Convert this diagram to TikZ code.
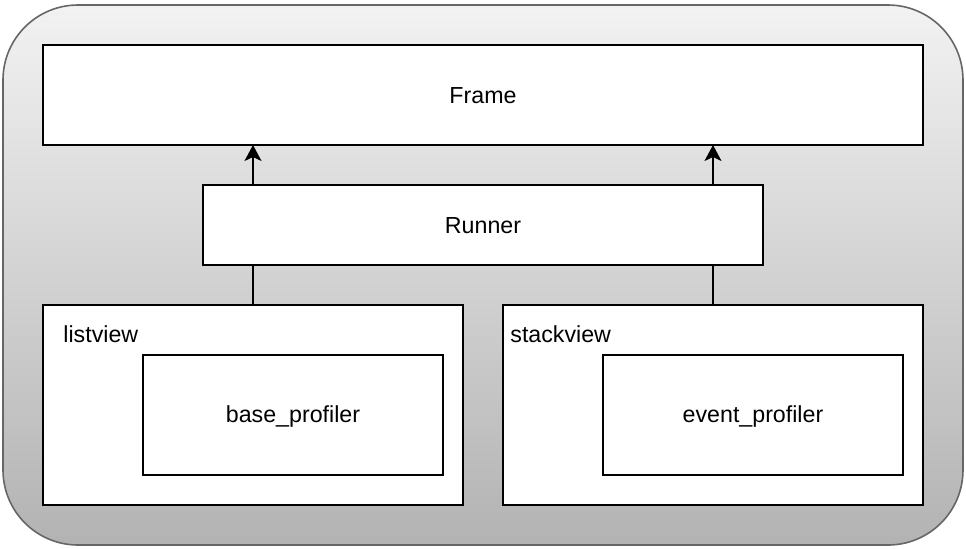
\documentclass[tikz,border=0pt]{standalone}
\usepackage{fontspec}
\setmainfont{Liberation Sans}
\usetikzlibrary{arrows.meta}
\begin{document}
\begin{tikzpicture}[x=0.5pt,y=-0.5pt,
  box/.style={draw=black,line width=1pt,fill=white,inner sep=0pt},
  lbl/.style={font=\fontsize{11.6}{14}\selectfont},
  link/.style={draw=black,line width=0.9pt},
  uparrow/.style={link,-{Stealth[length=8pt,width=8.5pt,inset=2pt]}}]
  \useasboundingbox (0,0) rectangle (966,548);
  % rounded container with vertical grey gradient
  \path[draw=black!60,line width=0.8pt,top color=black!5,bottom color=black!30,
        rounded corners=37.5pt] (3,5) rectangle (963,545);
  % blocks
  \path[box] (43,45) rectangle (923,145);
  \node[lbl] (frame) at (483,96) {Frame};
  \coordinate (frameL) at (253,145);
  \coordinate (frameR) at (713,145);
  \path[box] (203,185) rectangle (763,265);
  \node[lbl] (runner) at (483,226) {Runner};
  \coordinate (runTL) at (253,185);
  \coordinate (runTR) at (713,185);
  \coordinate (runBL) at (253,265);
  \coordinate (runBR) at (713,265);
  \path[box] (43,305) rectangle (463,505);
  \node[lbl,anchor=west,inner xsep=0pt] (listview) at (63,334) {listview};
  \coordinate (listT) at (253,305);
  \path[box] (143,355) rectangle (443,475);
  \node[lbl] (base) at (293,416) {base\_profiler};
  \path[box] (503,305) rectangle (923,505);
  \node[lbl,anchor=west,inner xsep=0pt] (stackview) at (510,334) {stackview};
  \coordinate (stackT) at (713,305);
  \path[box] (603,355) rectangle (903,475);
  \node[lbl] (event) at (753,416) {event\_profiler};
  % connectors
  \draw[uparrow] (runTL) -- (frameL);
  \draw[uparrow] (runTR) -- (frameR);
  \draw[link] (listT) -- (runBL);
  \draw[link] (stackT) -- (runBR);
\end{tikzpicture}
\end{document}
